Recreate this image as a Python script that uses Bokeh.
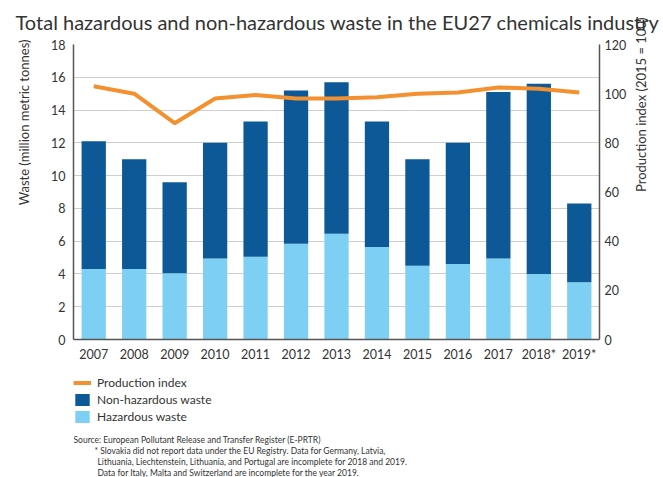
import math
from bokeh.plotting import figure
from bokeh.layouts import column
from bokeh.models import (Range1d, LinearAxis, Legend, LegendItem, Title, Label,
                          FixedTicker, FactorRange, ColumnDataSource)
from bokeh.embed import file_html
from bokeh.resources import INLINE

years = ["2007", "2008", "2009", "2010", "2011", "2012", "2013",
         "2014", "2015", "2016", "2017", "2018*", "2019*"]
hazardous = [4.3, 4.3, 4.05, 4.95, 5.05, 5.85, 6.45, 5.65, 4.5, 4.6, 4.95, 4.0, 3.5]
non_hazardous = [7.8, 6.7, 5.55, 7.05, 8.25, 9.35, 9.25, 7.65, 6.5, 7.4, 10.15, 11.6, 4.8]
production_index = [103, 100, 88, 98, 99.5, 98, 98, 98.5, 100, 100.5, 102.5, 102, 100.5]

left_ticks = [0, 2, 4, 6, 8, 10, 12, 14, 16, 18]
right_ticks = [0, 20, 40, 60, 80, 100, 120]

title_text = "Total hazardous and non-hazardous waste in the EU27 chemicals industry"
notes = [
    "Source: European Pollutant Release and Transfer Register (E-PRTR)",
    "* Slovakia did not report data under the EU Registry. Data for Germany,  Latvia,",
    "Lithuania, Liechtenstein, Lithuania, and Portugal are incomplete for 2018 and 2019.",
    "Data for Italy, Malta and Switzerland are incomplete for the year 2019.",
]
note_dx = [0, 21, 24, 24]
note_dy = [38, 27, 16, 5]

DARK = "#0d5897"
LIGHT = "#7dd0f3"
ORANGE = "#f39130"
FONT = "Lato"
TXT = "#333333"

source = ColumnDataSource(dict(years=years, haz=hazardous, nonhaz=non_hazardous,
                               prod=production_index))

p = figure(x_range=FactorRange(*years), y_range=Range1d(0, 18),
           width=663, height=369, output_backend="svg", toolbar_location=None,
           min_border_left=68, min_border_right=64, min_border_top=44,
           min_border_bottom=30)
p.outline_line_color = None
p.extra_y_ranges = {"prod": Range1d(0, 120)}

bars = p.vbar_stack(["haz", "nonhaz"], x="years", width=0.6, color=[LIGHT, DARK],
                    line_color=None, source=source)
line = p.line(x="years", y="prod", y_range_name="prod", line_width=4,
              color=ORANGE, source=source)

p.xgrid.grid_line_color = None
p.ygrid.grid_line_color = "#cfcfcf"
p.ygrid.ticker = FixedTicker(ticks=left_ticks)
p.yaxis.ticker = FixedTicker(ticks=left_ticks)

rax = LinearAxis(y_range_name="prod", ticker=FixedTicker(ticks=right_ticks),
                 axis_label="Production index (2015 = 100)")
p.add_layout(rax, "right")

for ax in [p.xaxis[0], p.yaxis[0], rax]:
    ax.major_tick_line_color = None
    ax.minor_tick_line_color = None
    ax.major_tick_out = 0
    ax.major_tick_in = 0
    ax.axis_line_color = "#555555"
    ax.axis_line_width = 1.5
    ax.major_label_text_font = FONT
    ax.major_label_text_font_size = "12.5px"
    ax.major_label_text_color = TXT
    ax.axis_label_text_font = FONT
    ax.axis_label_text_font_size = "13px"
    ax.axis_label_text_font_style = "normal"
    ax.axis_label_text_color = TXT

p.yaxis[0].major_label_standoff = 8
rax.major_label_standoff = 5
rax.axis_label_standoff = 12
rax.axis_label_orientation = math.pi / 2
p.xaxis[0].major_label_standoff = 7

p.add_layout(Title(text=title_text, align="left", offset=-58, standoff=17,
                   vertical_align="top",
                   text_font=FONT, text_font_size="20px", text_color=TXT,
                   text_font_style="normal"), "above")

p.add_layout(Title(text="Waste (million metric tonnes)", align="right", offset=-5,
                   vertical_align="top", standoff=30,
                   text_font=FONT, text_font_size="13px", text_color=TXT,
                   text_font_style="normal"), "left")

# lower panel: legend and notes (frame aligned with the chart frame)
q = figure(width=663, height=108, x_range=Range1d(0, 1), y_range=Range1d(0, 1),
           output_backend="svg", toolbar_location=None, min_border=0,
           x_axis_location=None, y_axis_location=None)
q.outline_line_color = None
q.xgrid.grid_line_color = None
q.ygrid.grid_line_color = None

lg_line = q.line(x="prod", y="haz", line_width=4, color=ORANGE, source=source,
                 visible=False)
lg_dark = q.vbar(x="prod", top="nonhaz", width=1, color=DARK, line_color=None,
                 source=source, visible=False)
lg_light = q.vbar(x="prod", top="haz", width=1, color=LIGHT, line_color=None,
                  source=source, visible=False)

legend = Legend(items=[LegendItem(label="Production index", renderers=[lg_line]),
                       LegendItem(label="Non-hazardous waste", renderers=[lg_dark]),
                       LegendItem(label="Hazardous waste", renderers=[lg_light])],
                location=(0, 53), padding=0, margin=0, spacing=2,
                glyph_width=18, glyph_height=15, label_height=15,
                label_standoff=6, inactive_fill_alpha=0,
                label_text_font=FONT, label_text_font_size="12px",
                label_text_color=TXT, border_line_color=None,
                background_fill_alpha=0)
q.add_layout(legend)

for dx, dy, t in zip(note_dx, note_dy, notes):
    q.add_layout(Label(x=dx, y=dy, x_units="screen", y_units="screen", text=t,
                       text_font=FONT, text_font_size="8.5px", text_color=TXT,
                       text_baseline="middle"))

open("out.html", "w").write(file_html(column(p, q), INLINE))
